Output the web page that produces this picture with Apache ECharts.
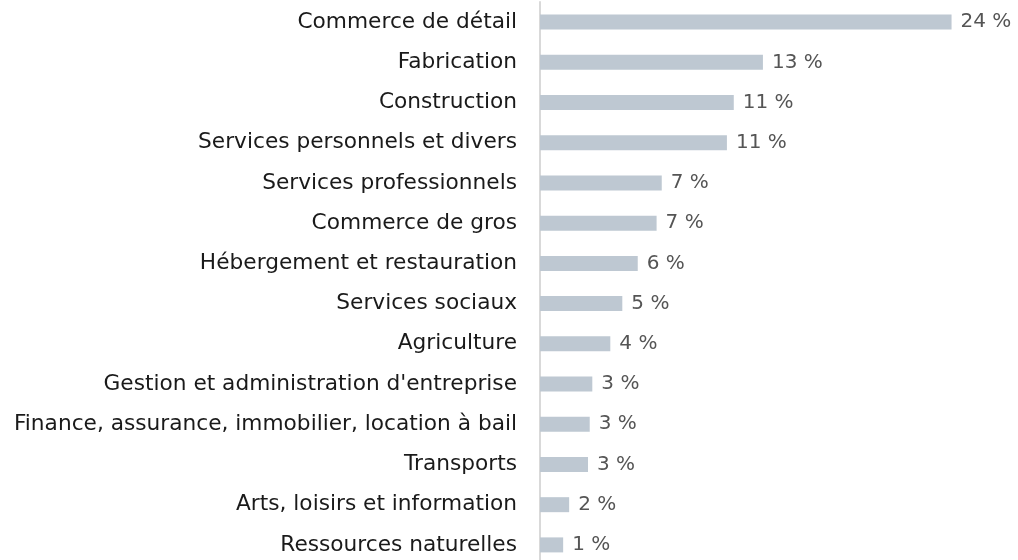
<!DOCTYPE html>
<html>
<head>
<meta charset="utf-8">
<script src="https://cdn.jsdelivr.net/npm/echarts@6/dist/echarts.min.js"></script>
<style>
  html, body { margin: 0; padding: 0; background: #fff; overflow: hidden; }
  /* a bit taller than the window: the last row is cut off at the bottom, like the original */
  #chart { width: 1018px; height: 565px; }
</style>
</head>
<body>
<div id="chart"></div>
<script>
// secteurs, du plus grand au plus petit
const categories = [
  'Commerce de détail',
  'Fabrication',
  'Construction',
  'Services personnels et divers',
  'Services professionnels',
  'Commerce de gros',
  'Hébergement et restauration',
  'Services sociaux',
  'Agriculture',
  "Gestion et administration d'entreprise",
  'Finance, assurance, immobilier, location à bail',
  'Transports',
  'Arts, loisirs et information',
  'Ressources naturelles'
];
const shares = [24.0, 13.0, 11.3, 10.9, 7.1, 6.8, 5.7, 4.8, 4.1, 3.05, 2.9, 2.8, 1.7, 1.35];

const chart = echarts.init(document.getElementById('chart'));

chart.setOption({
  animation: false,
  grid: { left: 540, width: 463, top: 2, bottom: 0, containLabel: false },
  xAxis: {
    type: 'value',
    min: 0,
    max: 27,
    show: false
  },
  yAxis: {
    type: 'category',
    inverse: true,
    data: categories,
    axisLine: { show: true, lineStyle: { color: '#d9d9d9', width: 2 } },
    axisTick: { show: false },
    axisLabel: {
      color: '#1a1a1a',
      fontFamily: 'DejaVu Sans',
      fontSize: 21.7,
      margin: 23
    }
  },
  series: [{
    type: 'bar',
    data: shares,
    barWidth: 15,
    itemStyle: { color: '#bec8d2' },
    label: {
      show: true,
      position: 'right',
      distance: 9,
      color: '#555',
      fontFamily: 'DejaVu Sans',
      fontSize: 20,
      formatter: p => Math.round(p.value) + ' %'
    }
  }]
});
</script>
</body>
</html>
